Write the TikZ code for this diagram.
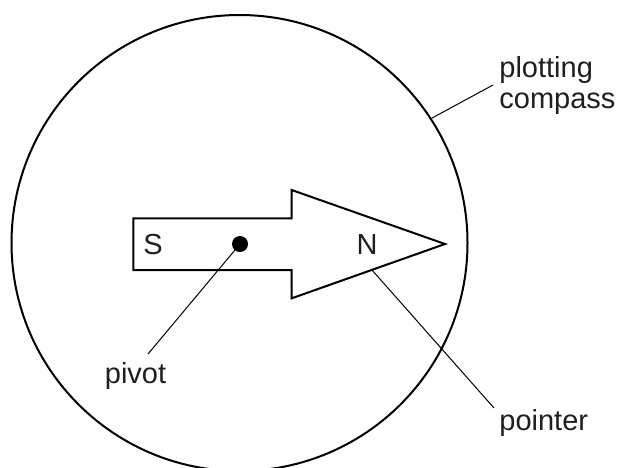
\documentclass[tikz,border=0pt]{standalone}
\usepackage{fontspec}
\setmainfont{Liberation Sans}
\begin{document}
\begin{tikzpicture}[x=0.5pt,y=-0.5pt,
  lbl/.style={anchor=base west,inner sep=0pt,text=black!88,font=\fontsize{14.5}{17}\selectfont},
  pole/.style={anchor=center,inner sep=0pt,text=black!88,font=\fontsize{14.5}{17}\selectfont},
  leader/.style={line width=0.5pt,black},
  outline/.style={line width=1pt,black,line join=miter}]
\useasboundingbox (0,0) rectangle (619,467);
% compass body
\node[circle,draw,line width=1pt,minimum size=228pt,inner sep=0pt] (compass) at (239.5,243) {};
% pointer
\draw[outline] (133.3,218.3) -- (291.7,218.3) -- (291.7,190) -- (445,244)
  -- (291.7,298.3) -- (291.7,270) -- (133.3,270) -- cycle;
\node[circle,fill=black,minimum size=8pt,inner sep=0pt] (pivotdot) at (240,244) {};
\node[pole] (S) at (153,245) {S};
\node[pole] (N) at (367,245) {N};
% labels
\node[lbl] (plotting) at (499,77) {plotting};
\node[lbl] (compasslbl) at (499,108) {compass};
\node[lbl] (pivot) at (104.5,383) {pivot};
\node[lbl] (pointer) at (499,430) {pointer};
% leader ends
\coordinate (cEnd) at (493,85);
\coordinate (pvEnd) at (148,354);
\coordinate (ptStart) at (372,270);
\coordinate (ptEnd) at (494,408);
\draw[leader] (compass.33.5) -- (cEnd);
\draw[leader] (pivotdot.center) -- (pvEnd);
\draw[leader] (ptStart) -- (ptEnd);
\end{tikzpicture}
\end{document}
